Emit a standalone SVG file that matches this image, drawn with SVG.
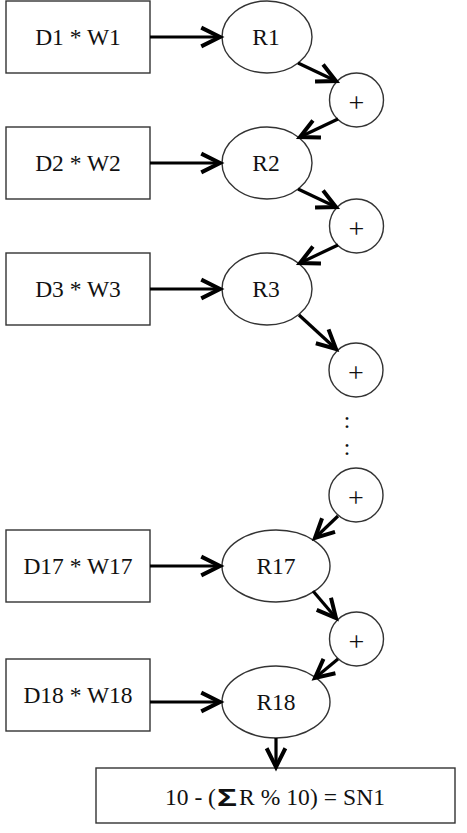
<svg xmlns="http://www.w3.org/2000/svg" width="467" height="833" viewBox="0 0 467 833">
<style>
.box{fill:#fff;stroke:#333;stroke-width:1.4}
.ell{fill:#fff;stroke:#333;stroke-width:1.4}
.t{font-family:"Liberation Serif","Times New Roman",serif;font-size:23.5px;fill:#111;text-anchor:middle}
.p{font-family:"Liberation Serif","Times New Roman",serif;font-size:28px;fill:#111;text-anchor:middle}
.c{stroke:#000;stroke-width:3.2;fill:none}
</style>
<defs>
<marker id="ah" markerUnits="userSpaceOnUse" markerWidth="30" markerHeight="30" refX="0" refY="0" viewBox="-20 -12 24 24" orient="auto" overflow="visible">
<path d="M-15,-7.5 L0,0 L-15,7.5" fill="none" stroke="#000" stroke-width="3.2" stroke-linejoin="miter"/>
</marker>
</defs>
<rect width="467" height="833" fill="#fff"/>
<g id="b1"><rect class="box" x="6" y="1" width="144" height="72"/><text class="t" x="78" y="45">D1 * W1</text></g>
<g id="r1"><ellipse class="ell" cx="267" cy="37" rx="45" ry="36"/><text class="t" x="266" y="45">R1</text></g>
<g id="p1"><circle class="ell" cx="356.5" cy="100" r="27"/><text class="p" x="356.5" y="111.5">+</text></g>
<g id="b2"><rect class="box" x="6" y="127" width="144" height="72"/><text class="t" x="78" y="171">D2 * W2</text></g>
<g id="r2"><ellipse class="ell" cx="267" cy="163" rx="45" ry="36"/><text class="t" x="266" y="171">R2</text></g>
<g id="p2"><circle class="ell" cx="356.5" cy="226" r="27"/><text class="p" x="356.5" y="237.5">+</text></g>
<g id="b3"><rect class="box" x="6" y="253" width="144" height="72"/><text class="t" x="78" y="297">D3 * W3</text></g>
<g id="r3"><ellipse class="ell" cx="267" cy="289" rx="45" ry="36"/><text class="t" x="266" y="297">R3</text></g>
<g id="p3"><circle class="ell" cx="356" cy="370" r="27"/><text class="p" x="356" y="381.5">+</text></g>
<g id="dots"><text class="t" x="347" y="428">:</text><text class="t" x="347" y="455">:</text></g>
<g id="p4"><circle class="ell" cx="356" cy="495" r="27"/><text class="p" x="356" y="506.5">+</text></g>
<g id="b17"><rect class="box" x="6" y="530" width="144" height="72"/><text class="t" x="78" y="574">D17 * W17</text></g>
<g id="r17"><ellipse class="ell" cx="276" cy="566" rx="54" ry="36"/><text class="t" x="276" y="574">R17</text></g>
<g id="p5"><circle class="ell" cx="356.5" cy="639" r="27"/><text class="p" x="356.5" y="650.5">+</text></g>
<g id="b18"><rect class="box" x="6" y="659" width="144" height="72"/><text class="t" x="78" y="703">D18 * W18</text></g>
<g id="r18"><ellipse class="ell" cx="276" cy="702" rx="54" ry="36"/><text class="t" x="276" y="710">R18</text></g>
<g id="sn"><rect class="box" x="96" y="768" width="359" height="55"/>
<text class="t" x="165" y="805" style="text-anchor:start">10 - (</text>
<text x="217" y="806" font-family="Liberation Sans, Arial, sans-serif" font-weight="bold" font-size="24" fill="#111" textLength="20" lengthAdjust="spacingAndGlyphs">Σ</text>
<text class="t" x="239" y="805" style="text-anchor:start" textLength="146" lengthAdjust="spacing">R % 10) = SN1</text>
</g>
<g id="connectors">
<line class="c" x1="150" y1="37" x2="220" y2="37" marker-end="url(#ah)"/>
<line class="c" x1="298" y1="63" x2="336" y2="81" marker-end="url(#ah)"/>
<line class="c" x1="338" y1="119" x2="300" y2="137" marker-end="url(#ah)"/>
<line class="c" x1="150" y1="163" x2="220" y2="163" marker-end="url(#ah)"/>
<line class="c" x1="298" y1="189" x2="336" y2="207" marker-end="url(#ah)"/>
<line class="c" x1="338" y1="245" x2="300" y2="263" marker-end="url(#ah)"/>
<line class="c" x1="150" y1="289" x2="220" y2="289" marker-end="url(#ah)"/>
<line class="c" x1="299" y1="315" x2="336" y2="349" marker-end="url(#ah)"/>
<line class="c" x1="338" y1="516" x2="315" y2="538" marker-end="url(#ah)"/>
<line class="c" x1="150" y1="566" x2="220" y2="566" marker-end="url(#ah)"/>
<line class="c" x1="313" y1="591" x2="336" y2="618" marker-end="url(#ah)"/>
<line class="c" x1="338" y1="659" x2="315" y2="678" marker-end="url(#ah)"/>
<line class="c" x1="150" y1="702" x2="220" y2="702" marker-end="url(#ah)"/>
<line class="c" x1="276" y1="738" x2="276" y2="767" marker-end="url(#ah)"/>
</g>
</svg>
